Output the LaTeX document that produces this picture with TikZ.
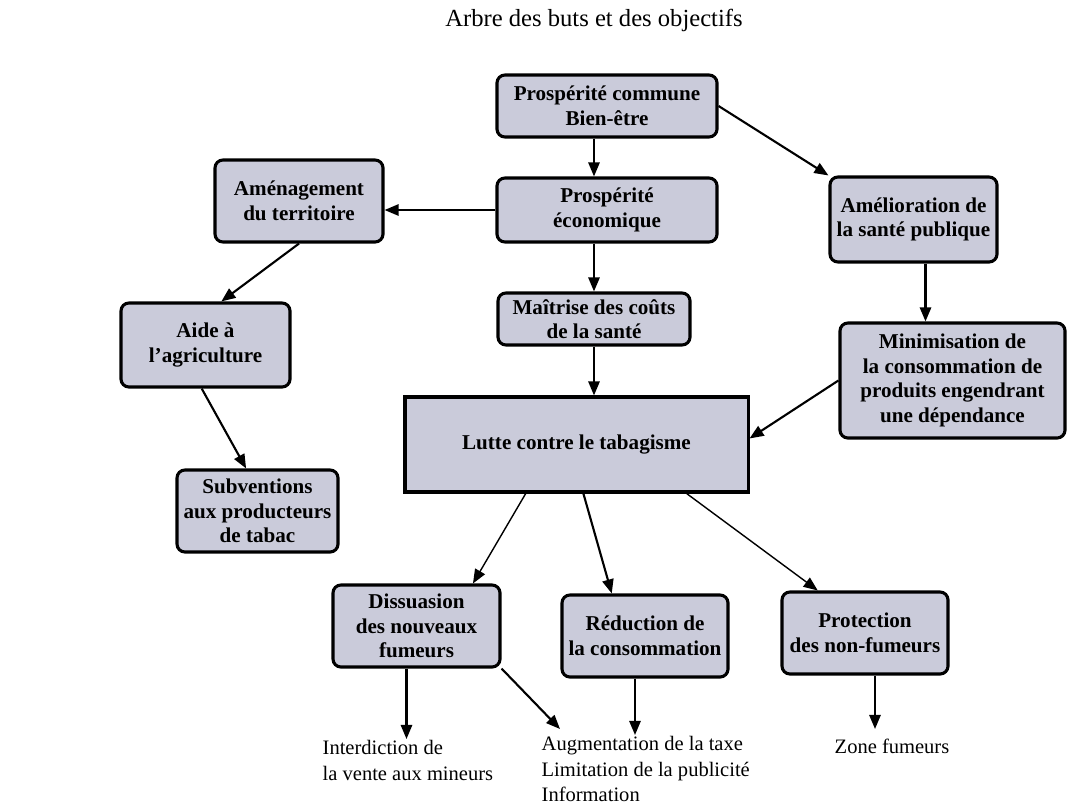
\documentclass[tikz,border=0pt]{standalone}
\usepackage{fontspec}
\setmainfont{Liberation Serif}
\usepackage{tikz}
\usetikzlibrary{arrows.meta}
\definecolor{boxfill}{RGB}{202,203,218}

\begin{document}
\begin{tikzpicture}[x=0.025cm, y=-0.025cm,
    box/.style={draw, line width=2.2pt, fill=boxfill, rounded corners=0.2cm, align=center, inner sep=2pt,
      font=\bfseries\fontsize{15}{17.5}\selectfont},
    leaf/.style={align=left, inner sep=1pt, font=\fontsize{14.6}{18}\selectfont},
    arr/.style={-{Triangle[length=10pt,width=8pt]}, line width=1.5pt},
    thinarr/.style={-{Triangle[length=10pt,width=8pt]}, line width=1pt}]
      \useasboundingbox (0,0) rectangle (1067,805);
      \node [font=\fontsize{17.5}{22}\selectfont] (titre) at (594,20) {Arbre des buts et des objectifs};
      \node [box, minimum width=5.5cm, minimum height=1.55cm] (commune) at (607,106) {Prospérité commune\\Bien-être};
      \node [box, minimum width=5.5cm, minimum height=1.6cm] (economique) at (607,210) {Prospérité\\économique};
      \node [box, minimum width=4.2cm, minimum height=2.05cm] (amenagement) at (299,201) {Aménagement\\du territoire};
      \node [box, minimum width=4.175cm, minimum height=2.125cm] (amelioration) at (913.5,219.5) {Amélioration de\\la santé publique};
      \node [box, minimum width=4.8cm, minimum height=1.3cm] (maitrise) at (594,319) {Maîtrise des coûts\\de la santé};
      \node [box, minimum width=5.625cm, minimum height=2.875cm] (minimisation) at (952.5,380.5) {Minimisation de\\la consommation de\\produits engendrant\\une dépendance};
      \node [box, minimum width=4.225cm, minimum height=2.1cm] (aide) at (205.5,345) {Aide à\\l’agriculture};
      \node [box, rounded corners=0pt, minimum width=8.575cm, minimum height=2.375cm] (lutte) at (576.5,444.5) {Lutte contre le tabagisme};
      \node [box, minimum width=4.025cm, minimum height=2.05cm] (subventions) at (257.5,511) {Subventions\\aux producteurs\\de tabac};
      \node [box, minimum width=4.175cm, minimum height=2.05cm] (dissuasion) at (416.5,626) {Dissuasion\\des nouveaux\\fumeurs};
      \node [box, minimum width=4.15cm, minimum height=2.05cm] (reduction) at (645,636) {Réduction de\\la consommation};
      \node [box, minimum width=4.15cm, minimum height=2.05cm] (protection) at (865,633) {Protection\\des non-fumeurs};
      \node [leaf, anchor=north west] (interdiction) at (321,739) {Interdiction de\\la vente aux mineurs};
      \node [leaf, anchor=north west] (augmentation) at (540,735) {Augmentation de la taxe\\Limitation de la publicité\\Information};
      \node [leaf] (zone) at (892,746) {Zone fumeurs};
      \draw [arr] (commune.south -| maitrise) -- (economique.north -| maitrise);
      \draw [arr] (commune.east) -- (amelioration.north west);
      \draw [arr] (economique.west) -- (economique.west -| amenagement.east);
      \draw [arr] (economique.south -| maitrise) -- (maitrise.north);
      \draw [arr] (maitrise.south) -- (lutte.north -| maitrise);
      \draw [arr] (amenagement.south) -- (aide.70);
      \draw [arr] (aide.265) -- (subventions.105);
      \draw [arr] ([xshift=0.3cm]amelioration.south) -- ([xshift=0.3cm]amelioration.south |- minimisation.north);
      \draw [arr] (minimisation.west) -- (lutte.2);
      \draw [thinarr] (lutte.224) -- (dissuasion.37);
      \draw [arr] (lutte.278) -- (reduction.128);
      \draw [thinarr] (lutte.336) -- (protection.138);
      \draw [arr] ([xshift=-0.25cm]dissuasion.south) -- ([xshift=-0.25cm]dissuasion.south |- interdiction.north);
      \draw [arr] (dissuasion.south east) -- ([xshift=0.5cm,yshift=0.15cm]augmentation.north west);
      \draw [arr] ([xshift=-0.25cm]reduction.south) -- ([xshift=-0.25cm]reduction.south |- augmentation.north);
      \draw [arr] ([xshift=0.25cm]protection.south) -- ([xshift=0.25cm,yshift=0.2cm]protection.south |- zone.north);
    \end{tikzpicture}
\end{document}
